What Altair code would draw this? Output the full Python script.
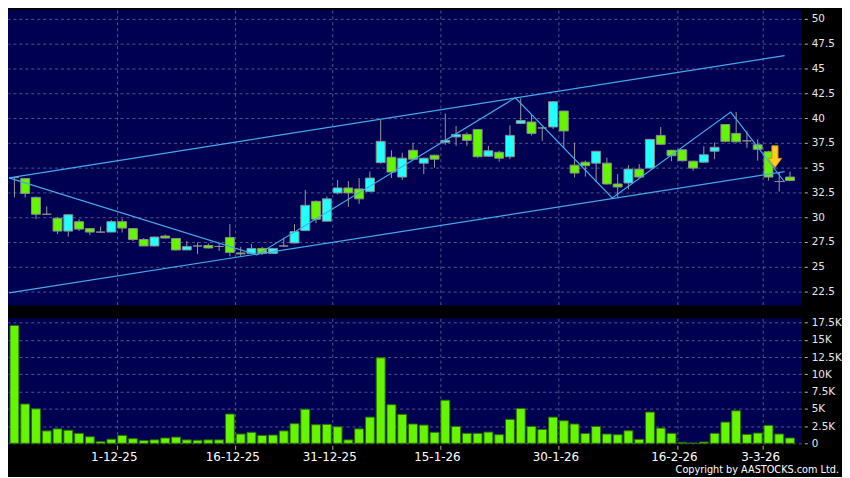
import altair as alt
import pandas as pd

# ---------------- data ----------------
opens = [34.0, 33.9, 32.0, 30.3, 29.9, 28.6, 29.55, 28.85, 28.5, 28.5,
         29.55, 28.85, 27.75, 27.1, 28.1, 27.85, 26.7, 27.1, 27.15, 27.05,
         27.95, 26.4, 26.35, 26.85, 26.35, 27.1, 27.4, 28.65, 31.6, 29.6,
         32.45, 32.95, 32.85, 32.6, 35.5, 36.05, 34.05, 36.75, 35.45, 36.25,
         37.55, 38.1, 38.35, 38.85, 36.15, 36.55, 36.1, 39.45, 39.6, 39.0,
         39.1, 40.7, 35.25, 35.55, 35.45, 35.45, 33.35, 33.45, 34.85, 34.95,
         38.25, 36.75, 36.8, 35.65, 35.55, 36.65, 39.35, 38.45, 37.7, 37.3,
         36.6, 33.6, 34.05]
highs = [34.05, 33.9, 32.1, 31.1, 30.0, 30.3, 29.8, 28.9, 29.05, 29.7,
         29.85, 28.9, 27.9, 28.05, 28.25, 27.9, 27.6, 27.45, 27.35, 27.35,
         29.3, 27.0, 27.3, 27.0, 26.9, 27.95, 29.3, 32.75, 31.7, 32.1,
         33.75, 33.65, 33.95, 34.6, 39.8, 36.75, 36.5, 37.5, 36.0, 36.3,
         40.45, 39.2, 38.55, 38.9, 37.2, 36.7, 39.25, 42.0, 40.3, 39.1,
         41.7, 40.75, 37.5, 35.7, 36.7, 36.0, 34.35, 35.25, 35.35, 37.9,
         39.1, 36.8, 36.85, 35.7, 37.15, 37.55, 39.4, 40.6, 38.7, 37.85,
         36.7, 34.55, 34.6]
lows = [32.0, 32.0, 29.8, 30.3, 28.3, 28.05, 28.6, 28.2, 28.4, 28.5,
        28.45, 27.6, 27.1, 27.05, 27.85, 26.65, 26.7, 26.3, 26.85, 26.6,
        26.05, 26.1, 26.3, 26.2, 26.3, 27.0, 27.35, 28.6, 29.4, 29.6,
        32.3, 31.05, 31.35, 32.5, 35.4, 33.95, 33.75, 35.8, 34.35, 35.0,
        37.3, 37.2, 37.2, 36.0, 36.1, 35.6, 35.85, 39.4, 38.25, 37.7,
        38.9, 37.0, 34.0, 34.1, 33.55, 33.3, 32.0, 32.8, 34.0, 34.9,
        37.3, 35.65, 35.6, 34.7, 35.5, 35.85, 37.55, 37.55, 37.0, 35.7,
        33.7, 32.6, 33.65]
closes = [34.0, 32.4, 30.3, 30.3, 28.6, 30.25, 28.8, 28.5, 28.5, 29.55,
          28.9, 27.75, 27.1, 28.0, 27.9, 26.7, 27.05, 27.1, 26.9, 27.05,
          26.45, 26.3, 26.85, 26.35, 26.85, 27.1, 28.55, 31.2, 29.8, 31.85,
          32.95, 32.45, 31.85, 33.95, 37.65, 34.55, 35.95, 35.85, 35.95, 35.85,
          37.75, 38.35, 37.75, 36.1, 36.7, 35.95, 38.25, 39.75, 38.45, 39.0,
          41.65, 38.7, 34.45, 35.2, 36.65, 33.35, 33.05, 34.85, 34.05, 37.85,
          37.35, 36.2, 35.7, 34.95, 36.3, 37.05, 37.65, 37.6, 37.7, 36.85,
          34.05, 33.6, 33.7]
volumes = [17100, 5700, 5000, 1800, 2100, 1900, 1450, 950, 250, 600,
           1150, 670, 400, 500, 770, 900, 500, 450, 500, 500,
           4250, 1350, 1600, 1150, 1200, 1800, 2850, 4950, 2700, 2750,
           2400, 500, 2100, 3800, 12400, 5600, 4200, 2800, 2650, 1600,
           6250, 2450, 1450, 1450, 1630, 1250, 3470, 5060, 2450, 2020,
           3800, 3270, 2800, 1430, 2450, 1350, 1250, 1820, 580, 4530,
           2210, 1450, 140, 50, 190, 1450, 3080, 4720, 1300, 1490,
           2600, 1350, 770]

# date axis labels (trading-day index of the labelled session)
tick_idx = [10, 21, 30, 40, 51, 62, 70]
tick_labels = ["1-12-25", "16-12-25", "31-12-25", "15-1-26", "30-1-26", "16-2-26", "3-3-26"]

price_ticks = [22.5, 25, 27.5, 30, 32.5, 35, 37.5, 40, 42.5, 45, 47.5, 50]
vol_ticks = [0, 2500, 5000, 7500, 10000, 12500, 15000, 17500]

# drawn trend lines: (name, index, price)
line_names = ["upper", "upper", "lower", "lower",
              "zig", "zig", "zig", "zig", "zig", "zig"]
line_idx = [-0.5, 71.5, -0.5, 71.5,
            -0.5, 22.5, 46.5, 55.5, 66.5, 71.5]
line_price = [33.97, 46.3, 22.37, 34.6,
              33.97, 26.2, 42.05, 31.95, 40.6, 33.55]

arrow_idx = [70.6]
arrow_price = [36.1]

copyright_text = ["Copyright by AASTOCKS.com Ltd."]

# ---------------- tables ----------------
n = len(opens)
df = pd.DataFrame({
    "idx": list(range(n)),
    "open": opens, "high": highs, "low": lows, "close": closes,
    "volume": volumes,
})
df["body_lo"] = df[["open", "close"]].min(axis=1)
df["body_hi"] = df[["open", "close"]].max(axis=1)
df["dir"] = ["up" if c > o else ("down" if c < o else "flat")
             for o, c in zip(opens, closes)]

lines_df = pd.DataFrame({"line": line_names, "idx": line_idx, "price": line_price})
arrow_df = pd.DataFrame({"idx": arrow_idx, "price": arrow_price})
copy_df = pd.DataFrame({"t": copyright_text})

# ---------------- styling ----------------
W = 800
PRICE_H = 298
VOL_H = 126
FONT = "DejaVu Sans"
GRID = "#55558c"
BG_PLOT = "#000050"
GREEN = "#66f500"
CYAN = "#22ffff"
LINE_BLUE = "#45a8ec"

x_scale = alt.Scale(domain=[-1.5 / 11, (W - 1.5) / 11], nice=False, zero=False)
grid_vals = [t - 0.5 for t in tick_idx]

label_expr = " : ".join(
    f"datum.value == {v} ? '{lab}'" for v, lab in zip(grid_vals, tick_labels)
) + " : ''"

price_x_axis = alt.Axis(values=grid_vals, labels=False, ticks=False, domain=False,
                        grid=True, gridColor=GRID, gridDash=[3, 3], title=None)
vol_x_axis = alt.Axis(values=grid_vals, labelExpr=label_expr, domain=False,
                      grid=True, gridColor=GRID, gridDash=[3, 3], title=None,
                      ticks=True, tickSize=4, tickColor="#aaaaaa", offset=2,
                      labelPadding=2, labelColor="#ffffff", labelFont=FONT,
                      labelFontSize=12, labelOffset=-3, labelFlush=False)

price_y_axis = alt.Axis(orient="right", values=price_ticks, format=".1~f", title=None,
                        domain=False, grid=True, gridColor=GRID, gridDash=[3, 3],
                        tickSize=3, tickColor="#bbbbbb", offset=3, labelPadding=4,
                        labelColor="#e8e8e8", labelFont=FONT, labelFontSize=10.5)
vol_y_axis = alt.Axis(orient="right", values=vol_ticks, title=None,
                      labelExpr="datum.value == 0 ? '0' : format(datum.value / 1000, '~g') + 'K'",
                      domain=False, grid=True, gridColor=GRID, gridDash=[3, 3],
                      tickSize=3, tickColor="#bbbbbb", offset=3, labelPadding=4,
                      labelColor="#e8e8e8", labelFont=FONT, labelFontSize=10.5)

price_scale = alt.Scale(domain=[21.1, 50.9], nice=False, zero=False)
vol_scale = alt.Scale(domain=[0, 18120], nice=False, zero=False)

X = alt.X("idx:Q", scale=x_scale, axis=price_x_axis)

base = alt.Chart(df)

wicks = base.mark_rule(color="#9a9a9a", strokeWidth=1, clip=True).encode(
    x=X,
    y=alt.Y("low:Q", scale=price_scale, axis=price_y_axis),
    y2="high:Q",
)

bodies = base.mark_bar(size=9, stroke="#8c8c8c", strokeWidth=1, clip=True).encode(
    x=X,
    y=alt.Y("body_lo:Q", scale=price_scale, axis=price_y_axis),
    y2="body_hi:Q",
    color=alt.Color("dir:N", legend=None,
                    scale=alt.Scale(domain=["down", "up", "flat"],
                                    range=[GREEN, CYAN, "#8c8c8c"])),
)

trend = alt.Chart(lines_df).mark_line(color=LINE_BLUE, strokeWidth=1.2, clip=True).encode(
    x=X,
    y=alt.Y("price:Q", scale=price_scale, axis=price_y_axis),
    detail="line:N",
)

arrow_path = "M -0.28 -1 L 0.28 -1 L 0.28 0.15 L 0.62 0.15 L 0 1 L -0.62 0.15 L -0.28 0.15 Z"
arrow = alt.Chart(arrow_df).mark_point(
    shape=arrow_path, size=484, filled=True, fill="#ffcc22",
    stroke="#d98e00", strokeWidth=1, opacity=1,
).encode(
    x=X,
    y=alt.Y("price:Q", scale=price_scale, axis=price_y_axis),
)

price_chart = alt.layer(wicks, bodies, trend, arrow).properties(
    width=W, height=PRICE_H)

vol_bars = base.mark_bar(size=9, color=GREEN, stroke="#2b6a00", strokeWidth=1).encode(
    x=alt.X("idx:Q", scale=x_scale, axis=vol_x_axis),
    y=alt.Y("volume:Q", scale=vol_scale, axis=vol_y_axis),
)

copyright_mark = alt.Chart(copy_df).mark_text(
    align="right", baseline="middle", font=FONT, fontSize=9.8, color="#ffffff",
).encode(
    text="t:N",
    x=alt.value(838),
    y=alt.value(153),
)

vol_chart = alt.layer(vol_bars, copyright_mark).properties(width=W, height=VOL_H)

chart = alt.vconcat(price_chart, vol_chart, spacing=12).properties(
    background="#000000",
    padding=0,
).configure_view(
    fill=BG_PLOT, stroke=None,
).configure_concat(spacing=12)

chart.save("out.html", embed_options={"renderer": "svg", "actions": False})
